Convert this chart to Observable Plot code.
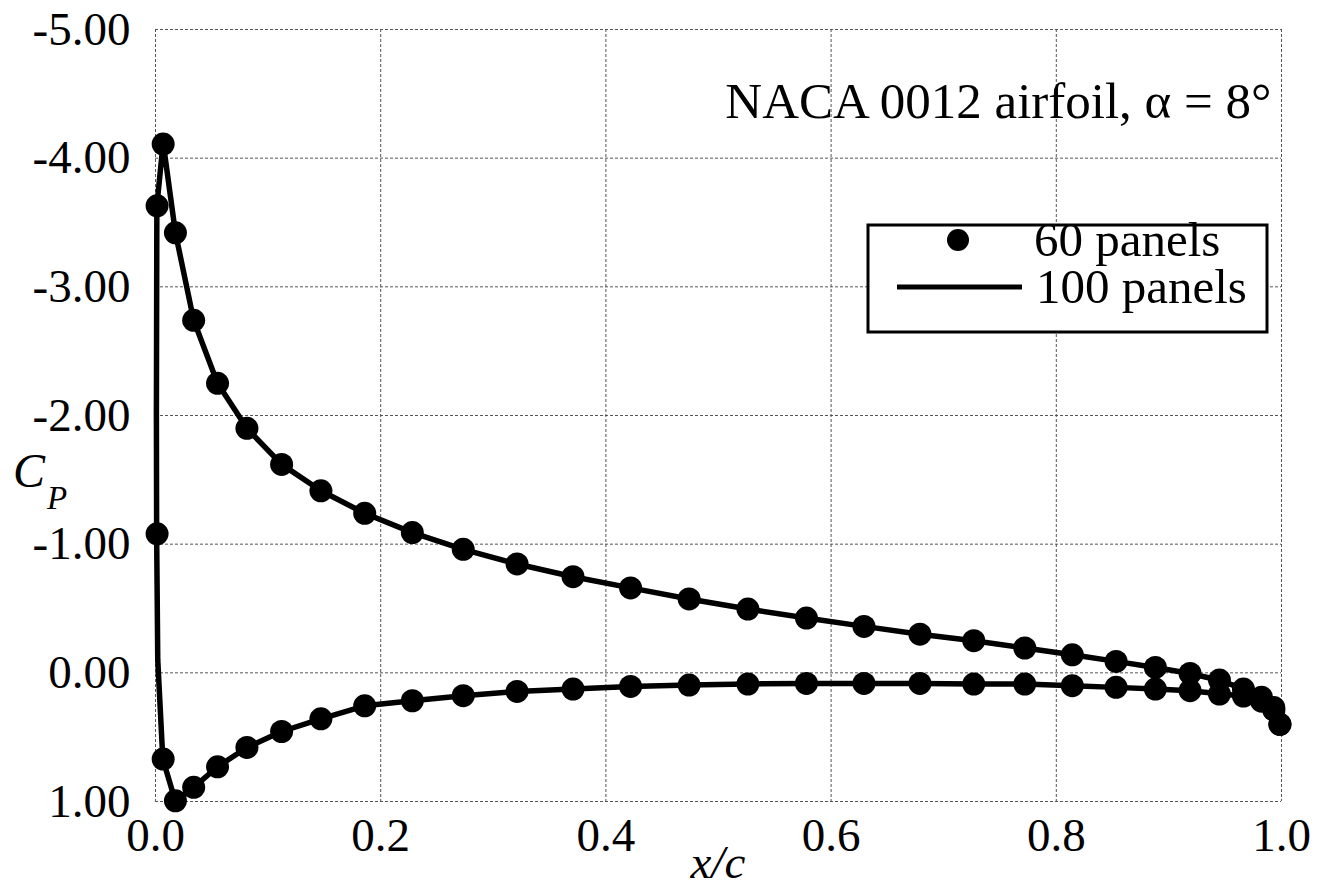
<!DOCTYPE html>
<html><head><meta charset="utf-8">
<script src="https://cdn.jsdelivr.net/npm/d3@7"></script>
<script src="https://cdn.jsdelivr.net/npm/@observablehq/plot@0.6"></script>
<style>body{margin:0;background:#fff} #chart{width:1323px;height:889px}</style>
</head><body><div id="chart"></div>
<script>
// 60-panel control points (x/c), upper and lower surface, leading edge -> trailing edge
const xPanels60 = [0.0014, 0.0068, 0.0177, 0.0339, 0.0551, 0.0812, 0.1120, 0.1469, 0.1858, 0.2281, 0.2733, 0.3211, 0.3708, 0.4219, 0.4739, 0.5261, 0.5781, 0.6292, 0.6789, 0.7267, 0.7720, 0.8142, 0.8531, 0.8880, 0.9188, 0.9449, 0.9662, 0.9823, 0.9932, 0.9986];
const cpUpper60 = [-3.63, -4.11, -3.42, -2.74, -2.25, -1.90, -1.62, -1.415, -1.24, -1.09, -0.96, -0.846, -0.747, -0.66, -0.574, -0.496, -0.426, -0.361, -0.30, -0.25, -0.193, -0.14, -0.089, -0.042, 0.005, 0.056, 0.126, 0.19, 0.27, 0.40];
const cpLower60 = [-1.08, 0.67, 0.995, 0.89, 0.73, 0.58, 0.456, 0.357, 0.256, 0.217, 0.178, 0.145, 0.126, 0.106, 0.095, 0.087, 0.082, 0.082, 0.082, 0.087, 0.087, 0.10, 0.113, 0.126, 0.139, 0.165, 0.18, 0.22, 0.29, 0.40];

// 100-panel solution (line), traced from upper trailing edge round the leading edge to lower trailing edge
const xLine100 = [0.9986, 0.9932, 0.9823, 0.9662, 0.9449, 0.9188, 0.8880, 0.8531, 0.8142, 0.7720, 0.7267, 0.6789, 0.6292, 0.5781, 0.5261, 0.4739, 0.4219, 0.3708, 0.3211, 0.2733, 0.2281, 0.1858, 0.1469, 0.1120, 0.0812, 0.0551, 0.0339, 0.0177, 0.0068, 0.0012, 0.0008, 0.0010, 0.0020, 0.0065, 0.0177, 0.0339, 0.0551, 0.0812, 0.1120, 0.1469, 0.1858, 0.2281, 0.2733, 0.3211, 0.3708, 0.4219, 0.4739, 0.5261, 0.5781, 0.6292, 0.6789, 0.7267, 0.7720, 0.8142, 0.8531, 0.8880, 0.9188, 0.9449, 0.9662, 0.9823, 0.9932, 0.9986];
const cpLine100 = [0.40, 0.27, 0.19, 0.125, 0.058, 0.005, -0.042, -0.089, -0.14, -0.193, -0.25, -0.30, -0.361, -0.426, -0.496, -0.574, -0.66, -0.747, -0.846, -0.96, -1.09, -1.24, -1.415, -1.62, -1.90, -2.25, -2.74, -3.42, -4.12, -3.63, -2.00, -1.08, -0.10, 0.67, 1.0, 0.89, 0.73, 0.58, 0.456, 0.357, 0.256, 0.217, 0.178, 0.145, 0.126, 0.106, 0.095, 0.087, 0.082, 0.082, 0.082, 0.087, 0.087, 0.10, 0.113, 0.126, 0.139, 0.163, 0.18, 0.22, 0.29, 0.40];

const xTicks = [0, 0.2, 0.4, 0.6, 0.8, 1.0];
const yTicks = [-5, -4, -3, -2, -1, 0, 1];
const titleText = "NACA 0012 airfoil, α = 8°";
const legendLabels = ["60 panels", "100 panels"];
const xLabel = "x/c";
const yLabelMain = "C";
const yLabelSub = "P";

const dots = [
  ...xPanels60.map((x, i) => ({x, cp: cpUpper60[i]})),
  ...xPanels60.map((x, i) => ({x, cp: cpLower60[i]}))
];
const line = xLine100.map((x, i) => ({x, cp: cpLine100[i]}));

const W = 1323, H = 889, ML = 155, MR = 42, MT = 29, MB = 88;
const serif = '"Liberation Serif","Times New Roman",serif';

const svg = Plot.plot({
  width: W, height: H,
  marginLeft: ML, marginRight: MR, marginTop: MT, marginBottom: MB,
  style: {fontFamily: serif, fontSize: "47px", background: "#fff", color: "#000", overflow: "visible"},
  x: {domain: [0, 1], ticks: xTicks, tickFormat: d => d.toFixed(1), label: null, tickSize: 0, tickPadding: 16},
  y: {domain: [1, -5], ticks: yTicks, tickFormat: d => d.toFixed(2), label: null, tickSize: 0, tickPadding: 25},
  marks: [
    Plot.ruleX(xTicks, {stroke: "#555", strokeWidth: 1, strokeDasharray: "3,2"}),
    Plot.ruleY(yTicks, {stroke: "#555", strokeWidth: 1, strokeDasharray: "3,2"}),
    Plot.line(line, {x: "x", y: "cp", stroke: "#000", strokeWidth: 5.5, strokeLinejoin: "round", strokeLinecap: "round"}),
    Plot.dot(dots, {x: "x", y: "cp", r: 11.5, fill: "#000", stroke: "none"}),
    Plot.text([titleText], {frameAnchor: "top-right", dx: -10, dy: 88, fontSize: 51, textAnchor: "end", lineAnchor: "bottom", fill: "#000"})
  ]
});

const s = d3.select(svg);
// Legend
const lg = s.append("g").attr("text-anchor", "start");
lg.append("rect").attr("x", 868).attr("y", 225).attr("width", 399).attr("height", 107)
  .attr("fill", "#fff").attr("stroke", "#000").attr("stroke-width", 3);
lg.append("circle").attr("cx", 958).attr("cy", 240).attr("r", 11).attr("fill", "#000");
lg.append("line").attr("x1", 897).attr("x2", 1022).attr("y1", 287).attr("y2", 287)
  .attr("stroke", "#000").attr("stroke-width", 5);
lg.append("text").attr("x", 1034).attr("y", 256).attr("font-size", 49).attr("font-family", serif).attr("text-anchor", "start").text(legendLabels[0]);
lg.append("text").attr("x", 1036).attr("y", 303).attr("font-size", 49).attr("font-family", serif).attr("text-anchor", "start").text(legendLabels[1]);

// Axis labels
s.append("text").attr("x", 718).attr("y", 878).attr("text-anchor", "middle")
  .attr("font-size", 47).attr("font-style", "italic").attr("font-family", serif).text(xLabel);
s.append("text").attr("x", 13).attr("y", 487).attr("text-anchor", "start")
  .attr("font-size", 48).attr("font-style", "italic").attr("font-family", serif).text(yLabelMain);
s.append("text").attr("x", 47).attr("y", 509).attr("text-anchor", "start")
  .attr("font-size", 33).attr("font-style", "italic").attr("font-family", serif).text(yLabelSub);

document.getElementById("chart").appendChild(svg);
</script>
</body></html>
